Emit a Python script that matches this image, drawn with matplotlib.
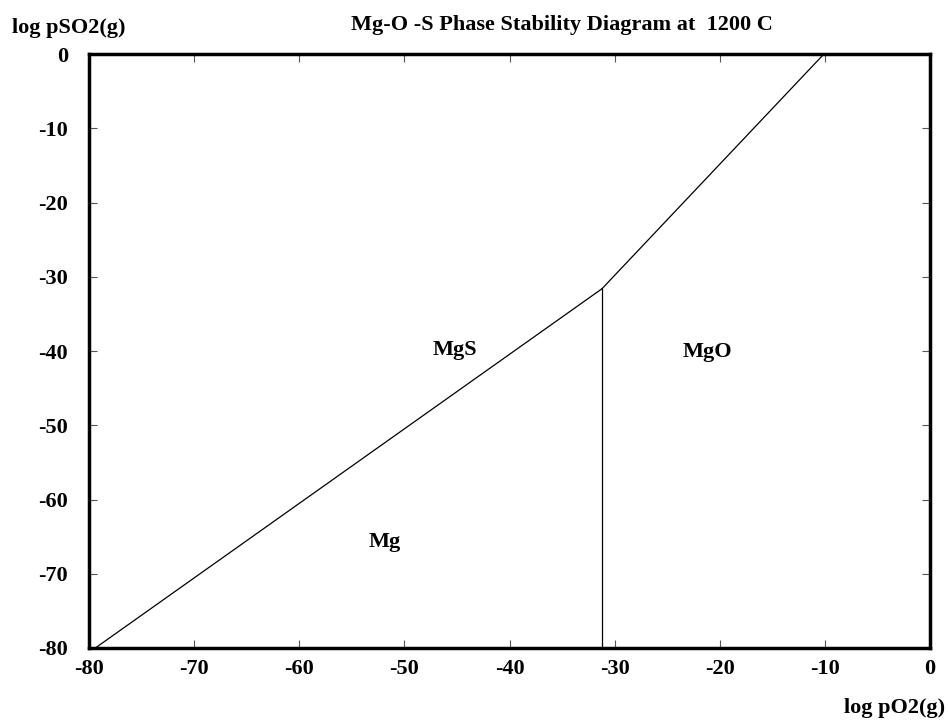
import numpy as np
import matplotlib
matplotlib.use("Agg")
import matplotlib.pyplot as plt

plt.rcParams['font.family'] = ['Liberation Serif', 'DejaVu Serif']
plt.rcParams['axes.unicode_minus'] = False

# phase boundaries (log pO2, log pSO2)
mg_mgs_x = [-79.4, -31.2]
mg_mgs_y = [-80.0, -31.6]
mgs_mgo_x = [-31.2, -10.1]
mgs_mgo_y = [-31.6, 0.0]
mg_mgo_x = [-31.2, -31.2]
mg_mgo_y = [-31.6, -80.0]

# phase labels
phases = ["MgS", "Mg", "MgO"]
phase_x = [-45.2, -51.9, -21.2]
phase_y = [-39.9, -65.7, -40.1]

ticks = [-80, -70, -60, -50, -40, -30, -20, -10, 0]

fig = plt.figure(figsize=(9.48, 7.22), dpi=100)
ax = fig.add_axes([0.0939, 0.1025, 0.8871, 0.8225])

for xs, ys in [(mg_mgs_x, mg_mgs_y), (mgs_mgo_x, mgs_mgo_y), (mg_mgo_x, mg_mgo_y)]:
    ax.plot(xs, ys, color="black", linewidth=0.9)

for name, px, py in zip(phases, phase_x, phase_y):
    ax.text(px, py, name, ha="center", va="center", fontsize=16, fontweight="bold")

ax.set_xlim(-80, 0)
ax.set_ylim(-80, 0)
ax.set_xticks(ticks)
ax.set_yticks(ticks)
ax.tick_params(direction="in", length=6, width=0.8, color="#555555",
               top=True, right=True, labelsize=16)
ax.tick_params(axis="y", pad=15)
ax.tick_params(axis="x", pad=8)
for lab in ax.get_xticklabels() + ax.get_yticklabels():
    lab.set_fontweight("bold")
for s in ax.spines.values():
    s.set_linewidth(2.5)

fig.text(0.593, 0.965, "Mg-O -S Phase Stability Diagram at  1200 C", ha="center", va="center",
         fontsize=16, fontweight="bold")
fig.text(0.013, 0.961, "log pSO2(g)", ha="left", va="center", fontsize=16, fontweight="bold")
fig.text(0.997, 0.019, "log pO2(g)", ha="right", va="center", fontsize=16, fontweight="bold")

fig.savefig("out.png", dpi=100)
